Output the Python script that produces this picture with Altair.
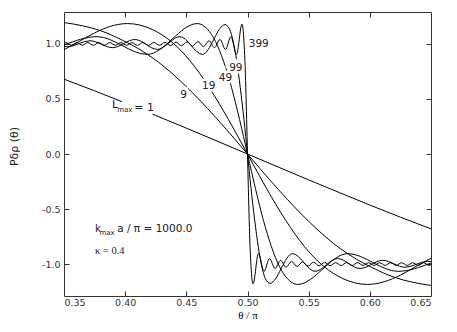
import altair as alt
import pandas as pd

# ---- data (theta/pi , P delta rho) ----
l1_x = [0.35, 0.375, 0.40, 0.425, 0.45, 0.475, 0.5, 0.525, 0.55, 0.575, 0.60, 0.625, 0.65]
l1_y = [0.68, 0.574, 0.464, 0.350, 0.235, 0.118, 0.0, -0.118, -0.235, -0.350, -0.464, -0.574, -0.68]

l9_x = [0.35, 0.365, 0.38, 0.3975, 0.414, 0.43, 0.445, 0.46, 0.475, 0.49, 0.5,
        0.51, 0.525, 0.54, 0.555, 0.57, 0.586, 0.6025, 0.62, 0.635, 0.65]
l9_y = [1.194, 1.165, 1.12, 1.035, 0.935, 0.81, 0.665, 0.50, 0.32, 0.13, 0.0,
        -0.13, -0.32, -0.50, -0.665, -0.81, -0.935, -1.035, -1.12, -1.165, -1.194]

l19_x = [0.35, 0.362, 0.375, 0.388, 0.402, 0.422, 0.4376, 0.4533, 0.4688, 0.4844, 0.5,
         0.5156, 0.5312, 0.5467, 0.5624, 0.578, 0.598, 0.612, 0.625, 0.638, 0.65]
l19_y = [0.948, 1.02, 1.10, 1.16, 1.185, 1.132, 1.022, 0.843, 0.602, 0.314, 0.0,
         -0.314, -0.602, -0.843, -1.022, -1.132, -1.185, -1.16, -1.10, -1.02, -0.948]

l49_x = [0.35, 0.377, 0.418, 0.459, 0.4674, 0.4739, 0.4804, 0.487, 0.4935, 0.5,
         0.5065, 0.513, 0.5196, 0.5261, 0.5326, 0.541, 0.582, 0.623, 0.65]
l49_y = [0.99, 1.066, 0.905, 1.185, 1.132, 1.022, 0.843, 0.602, 0.314, 0.0,
         -0.314, -0.602, -0.843, -1.022, -1.132, -1.185, -0.905, -1.066, -0.99]

l99_x = [0.35, 0.3528, 0.3712, 0.3896, 0.408, 0.4264, 0.4448, 0.4632, 0.4816, 0.4854, 0.4883, 0.4912,
         0.4941, 0.4971, 0.5,
         0.5029, 0.5059, 0.5088, 0.5117, 0.5146, 0.5184, 0.5368, 0.5552, 0.5736, 0.592, 0.6104,
         0.6288, 0.6472, 0.65]
l99_y = [0.978, 0.975, 1.029, 0.966, 1.04, 0.95, 1.066, 0.905, 1.175, 1.132, 1.022, 0.843,
         0.602, 0.314, 0.0,
         -0.314, -0.602, -0.843, -1.022, -1.132, -1.175, -0.905, -1.066, -0.95, -1.04, -0.966,
         -1.029, -0.975, -0.978]

l399_x = [0.35, 0.3515, 0.356, 0.3605, 0.365, 0.3695, 0.374, 0.3785, 0.383, 0.3875, 0.392,
          0.3965, 0.401, 0.4055, 0.41, 0.4145, 0.419, 0.4235, 0.428, 0.4325, 0.437,
          0.4415, 0.446, 0.4505, 0.455, 0.4595, 0.464, 0.4685, 0.473, 0.4775, 0.482,
          0.4865, 0.491, 0.4955, 0.4964, 0.4971, 0.4979, 0.4986, 0.4993, 0.5,
          0.5007, 0.5014, 0.5021, 0.5029, 0.5036, 0.5045, 0.509, 0.5135, 0.518, 0.5225,
          0.527, 0.5315, 0.536, 0.5405, 0.545, 0.5495, 0.554, 0.5585, 0.563, 0.5675,
          0.572, 0.5765, 0.581, 0.5855, 0.59, 0.5945, 0.599, 0.6035, 0.608, 0.6125,
          0.617, 0.6215, 0.626, 0.6305, 0.635, 0.6395, 0.644, 0.6485, 0.65]
l399_y = [1.004, 1.012, 0.988, 1.012, 0.988, 1.012, 0.988, 1.012, 0.988, 1.012, 0.988,
          1.012, 0.988, 1.012, 0.987, 1.013, 0.987, 1.013, 0.987, 1.014, 0.985,
          1.016, 0.983, 1.018, 0.98, 1.022, 0.975, 1.029, 0.966, 1.04, 0.95,
          1.066, 0.903, 1.18, 1.132, 1.022, 0.843, 0.602, 0.314, 0.0,
          -0.314, -0.602, -0.843, -1.022, -1.132, -1.18, -0.903, -1.066, -0.95, -1.04,
          -0.966, -1.029, -0.975, -1.022, -0.98, -1.018, -0.983, -1.016, -0.985, -1.014,
          -0.987, -1.013, -0.987, -1.013, -0.987, -1.012, -0.988, -1.012, -0.988, -1.012,
          -0.988, -1.012, -0.988, -1.012, -0.988, -1.012, -0.988, -1.012, -1.004]

curve_names = ["1", "9", "19", "49", "99", "399"]
curve_x = [l1_x, l9_x, l19_x, l49_x, l99_x, l399_x]
curve_y = [l1_y, l9_y, l19_y, l49_y, l99_y, l399_y]

x_ticks = [0.35, 0.40, 0.45, 0.50, 0.55, 0.60, 0.65]
y_ticks = [-1.0, -0.5, 0.0, 0.5, 1.0]

# curve labels
lab_text = ["9", "19", "49", "99"]
lab_x = [0.4478, 0.4683, 0.4820, 0.4905]
lab_y = [0.538, 0.620, 0.690, 0.784]

rows = []
for n, xs, ys in zip(curve_names, curve_x, curve_y):
    for a, b in zip(xs, ys):
        rows.append({"curve": n, "x": a, "y": b})
df = pd.DataFrame(rows)

W, H = 367, 284
xs_ = alt.Scale(domain=[0.35, 0.65], nice=False, zero=False)
ys_ = alt.Scale(domain=[-1.29, 1.29], nice=False, zero=False)
SANS = "DejaVu Sans"
SERIF = "Liberation Serif"
FRAME = "#333333"


def X(**kw):
    return alt.X("x:Q", scale=xs_, **kw)


def Y(**kw):
    return alt.Y("y:Q", scale=ys_, **kw)


lines = alt.Chart(df).mark_line(color="black", strokeWidth=1, interpolate="monotone", clip=True).encode(
    x=X(axis=alt.Axis(
        orient="bottom", values=x_ticks, format=".2f", ticks=False, domain=False, grid=False,
        labelPadding=1, labelFont=SANS, labelFontSize=9.5, labelColor="#333333",
        title="θ / π", titleFont=SERIF, titleFontSize=11, titleFontWeight="normal",
        titleX=W / 2, titleY=22, titleBaseline="alphabetic", titleAlign="center", titleColor="black")),
    y=Y(axis=alt.Axis(
        orient="left", values=y_ticks, ticks=False, domain=False, grid=False,
        labelExpr="replace(format(datum.value, '.1f'), '\u2212', '-')",
        labelPadding=4, labelFont=SANS, labelFontSize=9.5, labelColor="#333333",
        title="Pδρ (θ)", titleFont=SANS, titleFontSize=11, titleFontWeight="normal",
        titleAngle=270, titleX=-50, titleY=134, titleBaseline="middle", titleAlign="center",
        titleColor="#222222")),
    detail="curve:N",
)

inner_x = x_ticks[1:-1]
ticks_a = alt.Chart(df).mark_line(strokeOpacity=0).encode(
    x=X(axis=alt.Axis(orient="top", offset=-H, values=inner_x, labels=False,
                      domain=False, grid=False, tickSize=5, tickColor=FRAME, title="")),
    y=Y(axis=alt.Axis(orient="right", offset=-W, values=y_ticks, labels=False,
                      domain=False, grid=False, tickSize=5, tickColor=FRAME, title="")),
    detail="curve:N",
)
ticks_b = alt.Chart(df).mark_line(strokeOpacity=0).encode(
    x=X(axis=alt.Axis(orient="bottom", offset=-H, values=inner_x, labels=False,
                      domain=False, grid=False, tickSize=5, tickColor=FRAME, title="")),
    y=Y(axis=alt.Axis(orient="left", offset=-W, values=y_ticks, labels=False,
                      domain=False, grid=False, tickSize=5, tickColor=FRAME, title="")),
    detail="curve:N",
)

labdf = pd.DataFrame({"t": lab_text, "x": lab_x, "y": lab_y})
lab_halo = alt.Chart(labdf).mark_text(font=SANS, fontSize=10.5, color="white", stroke="white",
                                      strokeWidth=5, align="center", baseline="middle").encode(
    x=X(axis=None), y=Y(axis=None), text="t:N")
lab_txt = alt.Chart(labdf).mark_text(font=SANS, fontSize=10.5, color="#222222",
                                     align="center", baseline="middle").encode(
    x=X(axis=None), y=Y(axis=None), text="t:N")

# white box breaking the L=1 line behind its label
boxdf = pd.DataFrame({"x": [0.3974], "x2": [0.4225], "y": [0.497], "y2": [0.350]})
box = alt.Chart(boxdf).mark_rect(color="white").encode(
    x=X(axis=None), x2="x2:Q", y=Y(axis=None), y2="y2:Q")

ann = pd.DataFrame({
    "t": ["L", "max", "= 1", "399", "k", "max", "a / π = 1000.0"],
    "x": [0.3892, 0.3935, 0.4075, 0.5010, 0.3753, 0.3790, 0.3935],
    "y": [0.420, 0.385, 0.390, 1.000, -0.712, -0.735, -0.712],
    "s": [11, 7, 11, 10.5, 10.5, 7, 10.5],
    "b": ["alphabetic", "alphabetic", "alphabetic", "middle", "alphabetic", "alphabetic", "alphabetic"],
})
ann_layers = []
for i in range(len(ann)):
    r = ann.iloc[[i]]
    ann_layers.append(alt.Chart(r).mark_text(font=SANS, fontSize=float(r["s"].iloc[0]), color="#222222",
                                             align="left", baseline=r["b"].iloc[0]).encode(
        x=X(axis=None), y=Y(axis=None), text="t:N"))

kappa = alt.Chart(pd.DataFrame({"t": ["κ = 0.4"], "x": [0.3753], "y": [-0.912]})).mark_text(
    font=SERIF, fontSize=10.5, color="#222222", align="left", baseline="alphabetic").encode(
    x=X(axis=None), y=Y(axis=None), text="t:N")

chart = alt.layer(lines, ticks_a, ticks_b, lab_halo, lab_txt, box, *ann_layers, kappa).resolve_axis(
    x="independent", y="independent"
).properties(
    width=W, height=H,
    autosize=alt.AutoSizeParams(type="none"),
    padding={"left": 56, "top": 4, "right": 14, "bottom": 23},
).configure_view(stroke=FRAME, strokeWidth=1)

chart.save("out.html", embed_options={"renderer": "svg", "actions": False})
